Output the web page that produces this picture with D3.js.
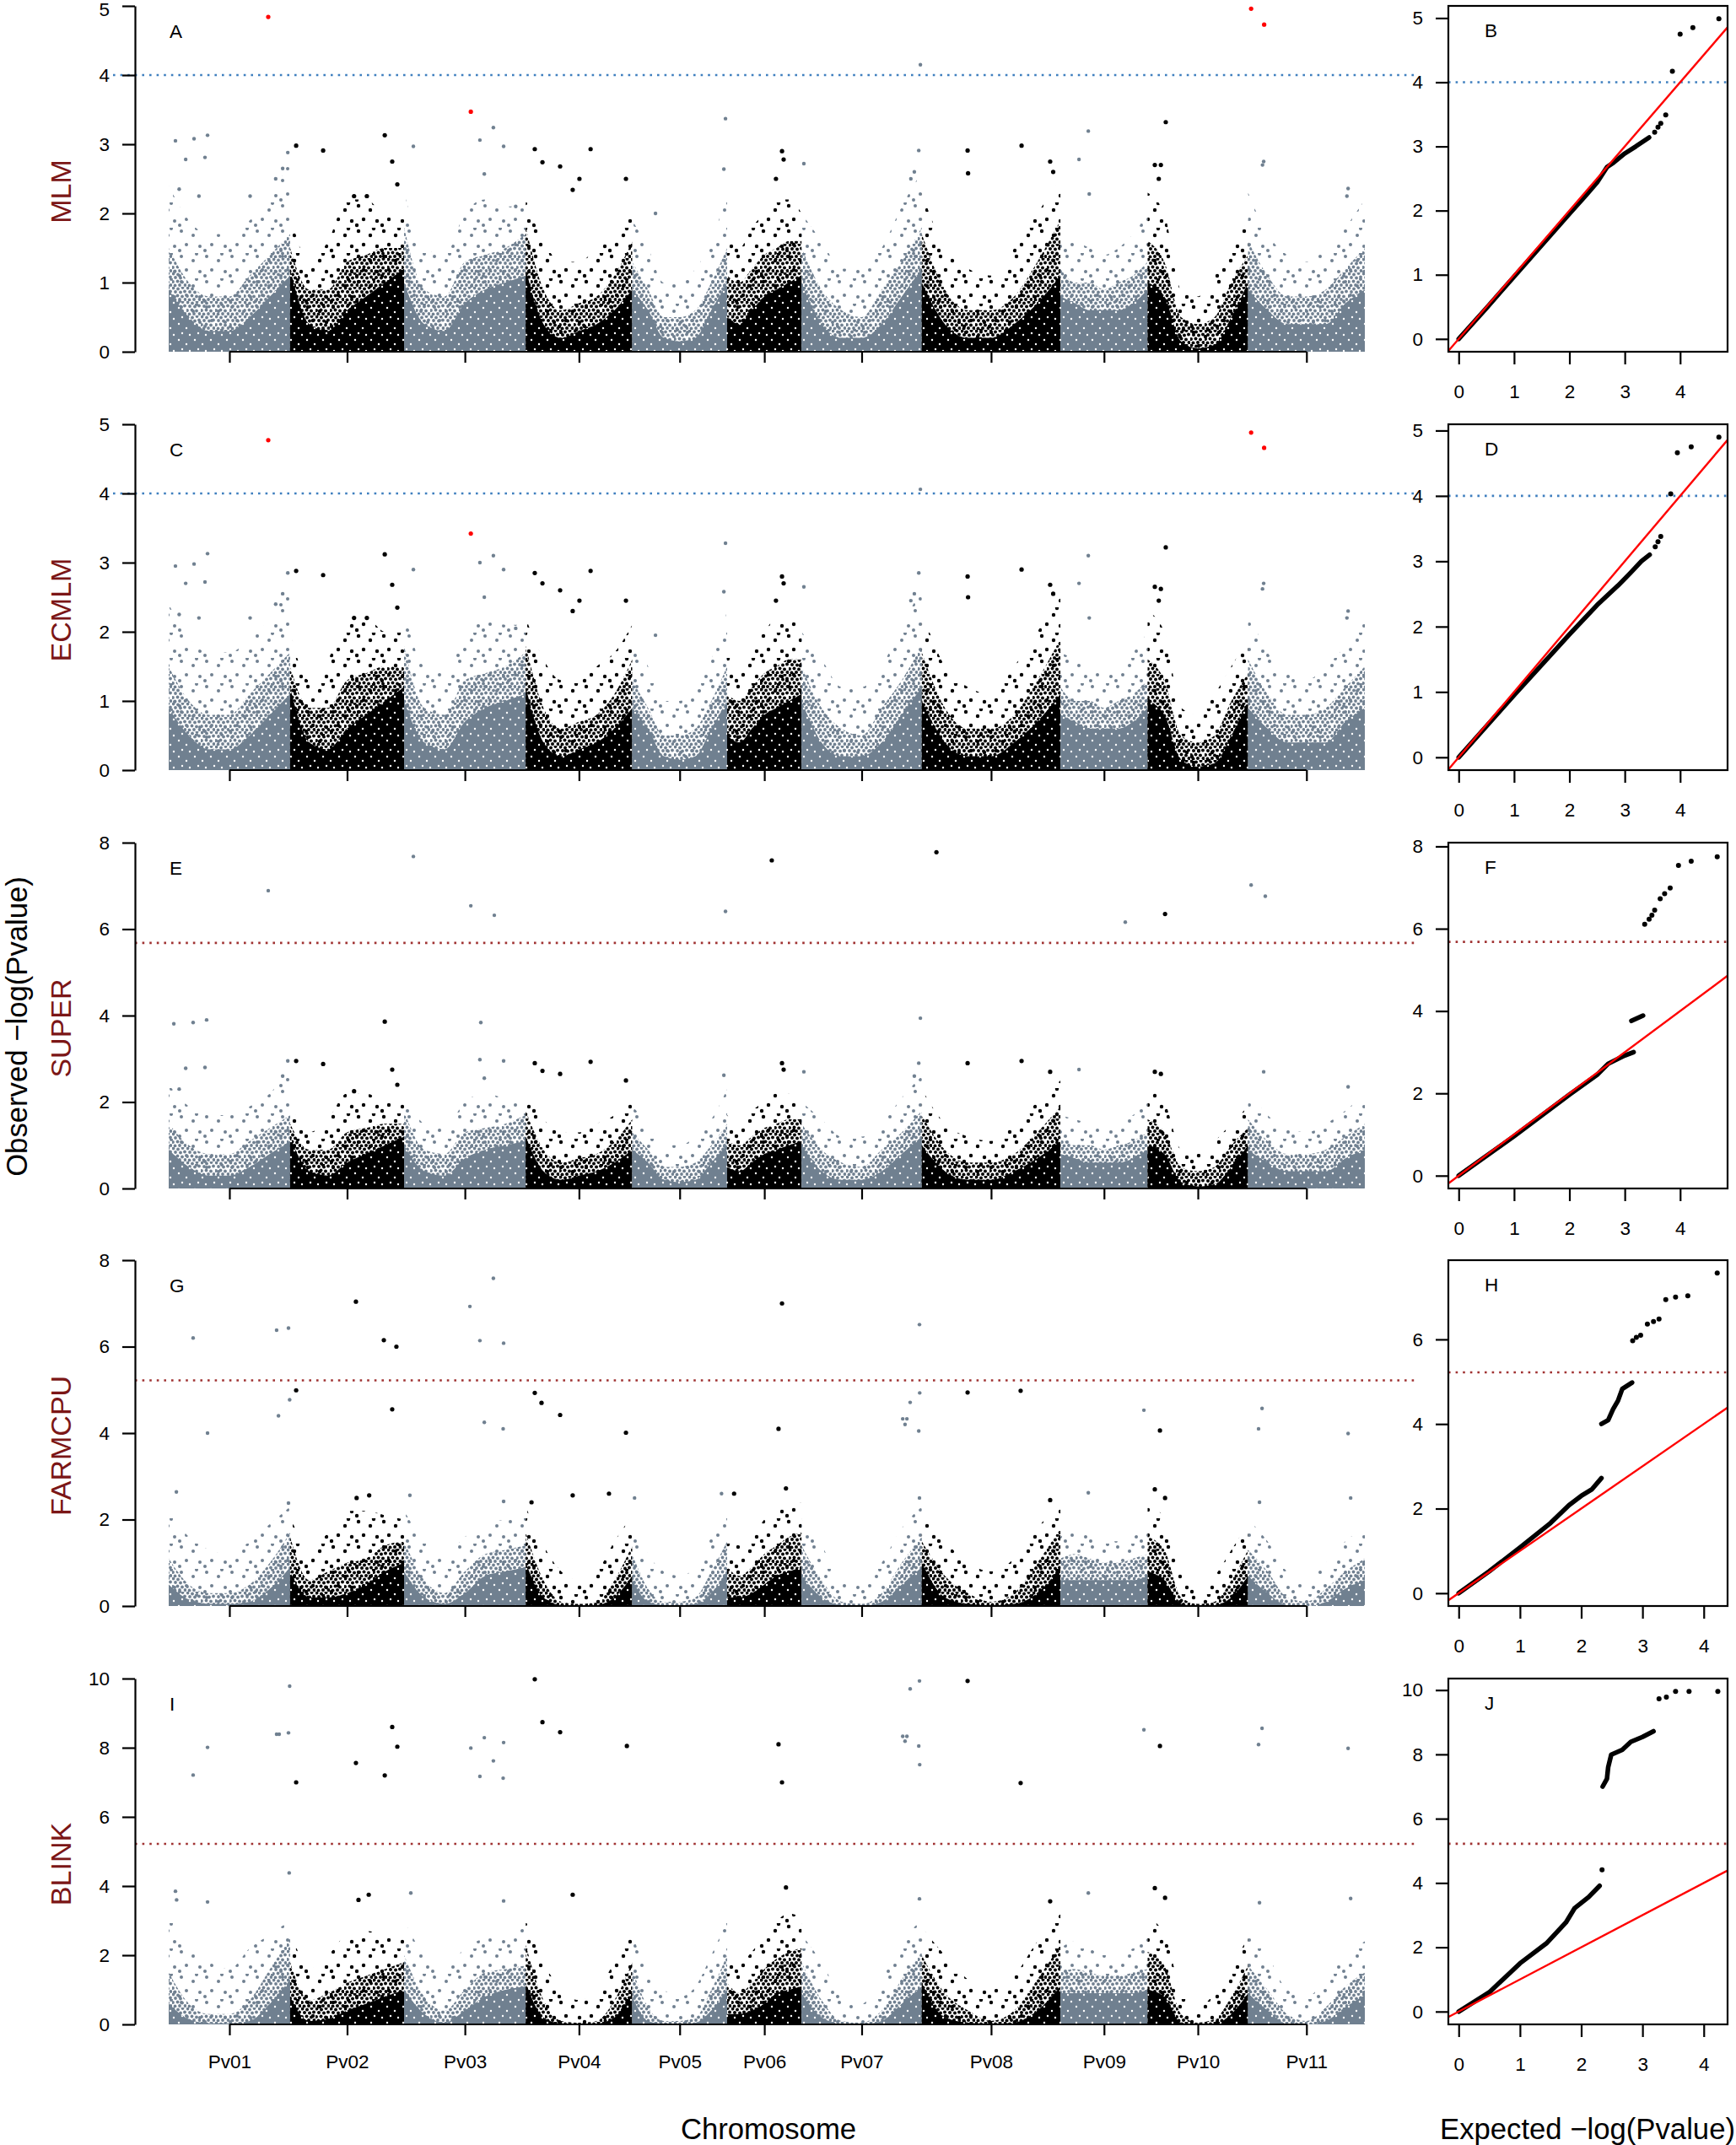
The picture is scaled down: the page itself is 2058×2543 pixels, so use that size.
<!DOCTYPE html>
<html>
<head>
<meta charset="utf-8">
<style>
  body { margin: 0; background: #fff; }
  svg text { font-family: "Liberation Sans", Arial, Helvetica, sans-serif; }
  .axis path, .axis line { stroke: #000; stroke-width: 2.2; fill: none; }
  .axis text { font-size: 22.5px; fill: #000; }
</style>
</head>
<body>
<svg width="2058" height="2543"></svg>
<script src="https://cdn.jsdelivr.net/npm/d3@7/dist/d3.min.js"></script>
<script>

// chromosomes (Mb)
var chromNames = ["Pv01","Pv02","Pv03","Pv04","Pv05","Pv06","Pv07","Pv08","Pv09","Pv10","Pv11"];
var chromLengths = [52.2, 49.0, 52.3, 45.8, 40.8, 32.0, 51.7, 59.6, 37.5, 43.2, 50.2];

var models = ["MLM","ECMLM","SUPER","FARMCPU","BLINK"];
var manhattanLetters = ["A","C","E","G","I"];
var qqLetters = ["B","D","F","H","J"];
var manhattanYMax = [5, 5, 8, 8, 10];
var manhattanYStep = [1, 1, 2, 2, 2];
var thresholds = [4, 4, 5.68, 5.22, 5.22];
var qqXMax = [4.67, 4.67, 4.67, 4.22, 4.22];
var qqYMax = [4.99, 4.90, 7.78, 7.57, 9.96];
var qqYStep = [1, 1, 2, 2, 2];

// bulk of the SNP cloud: -log10(p) reached by the solid / dense / sparse part,
// read at 7 even spots along each chromosome
var mixedSolid = [
  [0.9,0.5,0.3,0.3,0.5,0.8,1.1],[1.2,0.4,0.3,0.6,0.8,1.0,1.2],[1.0,0.4,0.3,0.7,0.9,1.0,1.1],
  [1.2,0.4,0.2,0.3,0.4,0.6,0.9],[0.9,0.6,0.2,0.15,0.2,0.6,1.0],[0.5,0.4,0.6,0.8,0.9,1.0,1.1],
  [1.0,0.4,0.2,0.2,0.4,0.8,1.2],[1.0,0.4,0.2,0.2,0.4,0.7,1.1],[0.8,0.7,0.6,0.6,0.6,0.7,0.9],
  [1.0,0.8,0.15,0.05,0.1,0.5,1.0],[0.9,0.6,0.4,0.4,0.4,0.7,0.9]];
var mixedDense = [
  [1.5,1.0,0.8,0.8,1.1,1.4,1.7],[1.5,0.9,0.9,1.3,1.4,1.5,1.5],[1.8,0.9,0.8,1.3,1.4,1.5,1.7],
  [1.8,0.9,0.6,0.7,0.8,1.1,1.6],[1.3,0.9,0.5,0.5,0.6,1.0,1.5],[1.1,1.0,1.2,1.4,1.5,1.6,1.6],
  [1.5,0.9,0.6,0.5,0.9,1.3,1.8],[1.7,0.9,0.6,0.6,0.8,1.3,1.9],[1.2,1.0,1.0,0.9,1.0,1.1,1.3],
  [1.6,1.3,0.5,0.4,0.5,1.0,1.4],[1.6,1.1,0.8,0.8,0.9,1.2,1.5]];
var mixedSparse = [
  [2.4,1.9,1.7,1.7,1.9,2.2,2.8],[2.0,1.3,1.6,2.2,2.2,2.0,2.0],[2.3,1.5,1.4,2.0,2.2,2.1,2.1],
  [2.2,1.6,1.3,1.3,1.5,1.7,2.1],[1.9,1.5,1.0,1.0,1.2,1.6,2.3],[1.7,1.5,1.8,2.0,2.2,2.2,2.0],
  [2.0,1.6,1.2,1.2,1.5,2.1,2.6],[2.3,1.5,1.2,1.1,1.5,2.0,2.5],[1.7,1.6,1.5,1.4,1.5,1.7,2.0],
  [2.3,2.0,0.9,0.8,1.1,1.5,1.9],[2.3,1.7,1.4,1.3,1.5,1.8,2.2]];

var farmSolid = [
  [0.5,0.15,0.05,0.05,0.1,0.4,0.9],[0.8,0.2,0.2,0.3,0.5,0.8,1.0],[0.8,0.2,0.05,0.3,0.7,0.8,0.9],
  [1.0,0.2,0.02,0.0,0.02,0.2,0.7],[0.6,0.1,0.02,0.02,0.05,0.3,0.8],[0.2,0.2,0.3,0.5,0.7,0.8,0.9],
  [0.7,0.2,0.02,0.0,0.1,0.5,0.9],[1.0,0.2,0.05,0.02,0.05,0.3,0.9],[0.6,0.6,0.6,0.6,0.6,0.6,0.7],
  [0.8,0.6,0.05,0.0,0.02,0.2,0.7],[0.7,0.3,0.02,0.0,0.1,0.4,0.6]];
var farmDense = [
  [1.1,0.5,0.3,0.3,0.5,1.0,1.7],[1.6,0.6,0.8,1.0,1.1,1.4,1.5],[1.5,0.6,0.3,0.8,1.2,1.3,1.4],
  [1.7,0.6,0.1,0.05,0.1,0.6,1.4],[1.2,0.4,0.1,0.1,0.2,0.8,1.5],[0.9,0.7,0.9,1.2,1.4,1.6,1.7],
  [1.4,0.6,0.1,0.05,0.3,1.0,1.6],[1.5,0.7,0.3,0.1,0.3,1.0,1.8],[1.1,1.2,1.1,1.0,1.0,1.1,1.2],
  [1.6,1.3,0.2,0.05,0.1,0.6,1.3],[1.3,0.8,0.2,0.1,0.4,0.8,1.1]];
var farmSparse = [
  [2.2,1.6,1.3,1.2,1.5,1.9,2.3],[2.1,1.3,1.7,2.2,2.2,2.1,2.0],[2.2,1.5,1.2,1.6,1.9,2.0,2.1],
  [2.3,1.4,0.8,0.6,0.8,1.5,2.1],[2.0,1.2,0.8,0.7,0.9,1.6,2.3],[1.6,1.4,1.6,2.0,2.2,2.4,2.4],
  [2.0,1.4,0.6,0.5,1.0,1.8,2.3],[2.1,1.5,1.0,0.8,1.1,1.8,2.4],[1.6,1.8,1.6,1.5,1.5,1.6,1.9],
  [2.4,2.0,0.8,0.4,0.7,1.3,1.9],[2.0,1.5,0.8,0.6,1.0,1.5,1.8]];

var blinkSolid = [
  [0.6,0.15,0.03,0.03,0.1,0.6,1.3],[0.8,0.1,0.15,0.4,0.6,0.8,1.0],[1.0,0.3,0.05,0.4,0.8,1.0,1.1],
  [1.2,0.2,0.02,0.0,0.02,0.2,0.9],[0.8,0.1,0.02,0.02,0.05,0.4,1.0],[0.3,0.3,0.4,0.6,0.9,1.0,1.1],
  [0.9,0.2,0.02,0.0,0.1,0.6,1.1],[1.2,0.2,0.05,0.02,0.05,0.4,1.1],[0.9,0.9,0.9,0.9,0.9,0.9,1.0],
  [1.0,0.8,0.05,0.0,0.02,0.3,0.9],[0.9,0.4,0.02,0.0,0.1,0.5,0.85]];
var blinkDense = [
  [1.5,0.6,0.3,0.3,0.7,1.6,2.5],[1.8,0.7,0.9,1.2,1.4,1.6,1.8],[2.0,0.8,0.4,1.0,1.5,1.6,1.7],
  [2.3,0.7,0.1,0.05,0.1,0.7,1.8],[1.6,0.5,0.1,0.1,0.2,1.0,2.0],[1.2,0.9,1.2,1.6,1.9,2.1,2.2],
  [1.8,0.7,0.1,0.05,0.4,1.3,2.1],[2.0,0.9,0.4,0.1,0.4,1.3,2.3],[1.5,1.6,1.5,1.4,1.4,1.5,1.6],
  [2.1,1.7,0.3,0.05,0.15,0.8,1.7],[1.7,1.0,0.3,0.1,0.5,1.1,1.5]];
var blinkSparse = [
  [3.2,2.2,1.8,1.6,2.2,2.6,3.0],[2.8,1.6,2.0,2.6,2.7,2.6,2.5],[3.0,2.0,1.6,2.2,2.5,2.6,2.8],
  [3.0,1.8,1.0,0.7,1.0,1.8,2.7],[2.6,1.5,1.0,0.8,1.1,2.0,3.0],[2.1,1.8,2.1,2.6,3.0,3.2,3.1],
  [2.6,1.8,0.8,0.6,1.3,2.4,3.0],[2.8,2.0,1.3,1.0,1.4,2.4,3.2],[2.2,2.4,2.2,2.0,2.0,2.2,2.5],
  [3.1,2.6,1.0,0.5,0.9,1.7,2.5],[2.6,2.0,1.0,0.8,1.3,2.0,2.4]];

// single SNPs standing out of the cloud: [chromosome, position Mb, -log10(p)]
var mlmPoints = [
  [1,2.9,3.05],[1,10.9,3.08],[1,16.7,3.13],[1,7.3,2.78],[1,15.6,2.81],[1,4.5,2.35],[1,13.0,2.25],[1,35,2.25],[1,46,2.5],[1,49,2.65],[1,51.2,2.88],
  [2,2.6,2.98],[2,14.2,2.91],[2,40.7,3.13],[2,43.9,2.75],[2,46.1,2.42],[2,27.5,2.25],[2,33,2.25],
  [3,4.0,2.97],[3,32.6,3.06],[3,38.4,3.24],[3,42.8,2.97],[3,34.5,2.57],[3,48,2.1],
  [4,3.9,2.93],[4,7.2,2.74],[4,14.8,2.68],[4,20.2,2.34],[4,23.1,2.5],[4,27.9,2.93],[4,43.1,2.5],
  [5,40.1,3.37],[5,39.4,2.64],[5,10,2.0],
  [6,23.6,2.9],[6,24.3,2.78],[6,21,2.5],
  [7,1.0,2.72],[7,50.4,2.91],[7,48.5,2.6],[7,47,2.5],[7,51.1,4.15],
  [8,19.7,2.91],[8,19.9,2.58],[8,42.9,2.98],[8,55.2,2.75],[8,56.5,2.6],
  [9,12.0,3.19],[9,8.0,2.78],[9,12.4,2.28],
  [10,7.8,3.32],[10,3.1,2.7],[10,5.7,2.7],[10,4.8,2.5],
  [11,6.7,2.75],[11,6.2,2.7],[11,43.0,2.36],[11,42.5,2.25]];
var mlmHits = [[1,42.8,4.84],[3,28.7,3.47],[11,1.3,4.96],[11,6.9,4.73]];

var ecmlmPoints = [
  [1,2.9,2.95],[1,10.9,2.98],[1,16.7,3.13],[1,7.3,2.7],[1,15.6,2.72],[1,4.5,2.25],[1,13.0,2.2],[1,35,2.2],[1,46,2.4],[1,49,2.55],[1,51.2,2.85],
  [2,2.6,2.88],[2,14.2,2.82],[2,40.7,3.12],[2,43.9,2.68],[2,46.1,2.35],[2,27.5,2.2],[2,33,2.2],
  [3,4.0,2.9],[3,32.6,3.0],[3,38.4,3.1],[3,42.8,2.9],[3,34.5,2.5],[3,48,2.05],
  [4,3.9,2.85],[4,7.2,2.7],[4,14.8,2.6],[4,20.2,2.3],[4,23.1,2.45],[4,27.9,2.88],[4,43.1,2.45],
  [5,40.1,3.28],[5,39.4,2.58],[5,10,1.95],
  [6,23.6,2.8],[6,24.3,2.7],[6,21,2.45],
  [7,1.0,2.65],[7,50.4,2.85],[7,48.5,2.55],[7,47,2.45],[7,51.1,4.06],
  [8,19.7,2.8],[8,19.9,2.5],[8,42.9,2.9],[8,55.2,2.68],[8,56.5,2.55],
  [9,12.0,3.1],[9,8.0,2.7],[9,12.4,2.2],
  [10,7.8,3.22],[10,3.1,2.65],[10,5.7,2.62],[10,4.8,2.45],
  [11,6.7,2.7],[11,6.2,2.62],[11,43.0,2.3],[11,42.5,2.2]];
var ecmlmHits = [[1,42.8,4.77],[3,28.7,3.42],[11,1.3,4.88],[11,6.9,4.66]];

var superPoints = [
  [1,42.8,6.89],[3,4.0,7.68],[3,28.7,6.54],[3,38.8,6.32],[5,40.1,6.41],[6,19.2,7.59],[8,6.3,7.78],
  [9,27.9,6.16],[10,7.5,6.35],[11,1.3,7.02],[11,7.4,6.76],
  [1,2.2,3.81],[1,10.5,3.84],[1,16.3,3.9],[2,40.7,3.86],[3,33.0,3.84],[7,51.1,3.94],
  [1,7.3,2.78],[1,15.6,2.8],[1,51.2,2.95],[1,4.5,2.3],[1,49,2.6],[2,2.6,2.95],[2,14.2,2.88],[2,43.9,2.75],
  [2,46.1,2.4],[2,27.5,2.25],[3,32.6,2.98],[3,42.8,2.95],[3,34.5,2.55],[4,3.9,2.9],[4,7.2,2.72],
  [4,14.8,2.65],[4,27.9,2.93],[4,43.1,2.5],[5,39.4,2.62],[6,23.6,2.9],[6,24.3,2.75],[7,1.0,2.7],
  [7,50.4,2.9],[7,48.5,2.6],[8,19.7,2.9],[8,42.9,2.95],[8,55.2,2.7],[9,8.0,2.75],[10,3.1,2.7],
  [10,5.7,2.65],[11,6.7,2.7],[11,43.0,2.35]];

var farmPoints = [
  [1,10.5,6.2],[1,16.7,4.0],[1,46.4,6.38],[1,51.5,6.43],[1,52.0,4.77],[1,47.2,4.40],
  [2,2.6,4.99],[2,28.3,7.04],[2,40.3,6.15],[2,45.7,6.0],[2,43.9,4.55],
  [3,28.3,6.93],[3,38.4,7.58],[3,32.6,6.14],[3,42.8,6.08],[3,34.5,4.25],[3,42.6,4.1],
  [4,3.9,4.93],[4,6.8,4.70],[4,14.8,4.42],[4,43.1,4.01],
  [6,23.6,7.0],[6,22.1,4.1],
  [7,50.7,6.51],[7,50.8,4.93],[7,46.7,4.71],[7,43.5,4.33],[7,45.3,4.33],[7,44.5,4.2],[7,50.4,4.05],
  [8,19.7,4.94],[8,42.5,4.98],[9,35.9,4.53],[10,5.3,4.06],[11,6.0,4.57],[11,4.5,4.1],[11,43.0,3.99],
  [1,3.3,2.64],[1,51.5,2.38],[2,28.6,2.5],[2,34,2.56],[3,2.5,2.56],[3,42.8,2.42],[4,2.5,2.4],
  [4,20.2,2.56],[4,35.8,2.6],[5,1.0,2.5],[5,38.4,2.6],[6,3.0,2.6],[6,25.3,2.72],[7,50.7,2.5],
  [8,55.2,2.45],[9,12.0,2.62],[10,3.1,2.7],[10,7.5,2.5],[11,4.9,2.4],[11,44.1,2.5]];

var blinkPoints = [
  [1,10.5,7.21],[1,16.7,8.01],[1,46.4,8.39],[1,47.5,8.39],[1,51.5,8.43],[1,52.0,9.78],[1,51.8,4.38],
  [2,2.6,7.0],[2,28.3,7.56],[2,40.7,7.2],[2,43.9,8.6],[2,46.1,8.03],
  [3,28.7,7.99],[3,34.5,8.29],[3,38.4,7.62],[3,42.8,8.15],[3,32.6,7.17],[3,42.6,7.12],
  [4,3.9,9.98],[4,7.2,8.74],[4,14.8,8.45],[4,43.5,8.05],
  [6,22.1,8.1],[6,23.6,7.0],
  [7,50.7,9.93],[7,46.7,9.7],[7,43.5,8.33],[7,45.3,8.33],[7,44.5,8.19],[7,50.4,8.05],[7,50.8,7.51],
  [8,19.7,9.93],[8,42.5,6.98],[9,35.9,8.52],[10,5.3,8.05],[11,6.0,8.56],[11,4.5,8.09],[11,43.0,7.98],
  [1,2.9,3.85],[1,3.4,3.6],[1,16.7,3.54],[2,33.8,3.75],[2,29.4,3.6],[3,2.9,3.8],[3,42.8,3.57],
  [4,20.2,3.75],[6,25.3,3.96],[7,50.7,3.63],[8,55.2,3.56],[9,12.0,3.8],[10,3.1,3.94],[10,7.5,3.66],
  [11,4.9,3.52],[11,44.1,3.64]];

// QQ plots: [expected, observed]; dense runs as line segments, the rest as dots
var mlmQQLine = [[[0,0],[0.5,0.48],[1,0.97],[1.5,1.46],[2,1.95],[2.3,2.24],[2.5,2.44],[2.68,2.68],[2.8,2.75],[3.0,2.89],[3.2,3.0],[3.44,3.14]]];
var mlmQQDots = [[3.54,3.22],[3.6,3.3],[3.65,3.36],[3.74,3.49],[3.86,4.17],[4.0,4.75],[4.23,4.85],[4.7,4.99]];
var ecmlmQQLine = [[[0,0],[1,0.95],[2,1.88],[2.5,2.33],[2.88,2.63],[3.1,2.82],[3.3,3.0],[3.45,3.1]]];
var ecmlmQQDots = [[3.55,3.22],[3.6,3.3],[3.65,3.38],[3.83,4.03],[3.95,4.66],[4.2,4.75],[4.7,4.9]];
var superQQLine = [[[0,0],[1,0.96],[2,1.97],[2.5,2.45],[2.7,2.72],[3.0,2.92],[3.16,3.0]], [[3.12,3.76],[3.33,3.89]]];
var superQQDots = [[3.36,6.11],[3.44,6.23],[3.49,6.33],[3.54,6.45],[3.64,6.73],[3.72,6.85],[3.82,6.99],[3.97,7.54],[4.2,7.64],[4.67,7.75]];
var farmQQLine = [[[0,0],[0.5,0.52],[1,1.08],[1.5,1.66],[1.8,2.08],[2.0,2.3],[2.17,2.45],[2.33,2.72]],
                  [[2.33,4.0],[2.44,4.09],[2.52,4.35],[2.6,4.55],[2.67,4.83],[2.83,4.98]]];
var farmQQDots = [[2.84,5.97],[2.9,6.05],[2.97,6.1],[3.08,6.36],[3.18,6.42],[3.27,6.48],[3.38,6.94],[3.54,7.0],[3.74,7.03],[4.22,7.57]];
var blinkQQLine = [[[0,0],[0.5,0.6],[1.0,1.5],[1.43,2.12],[1.75,2.77],[1.89,3.21],[2.12,3.56],[2.3,3.91]],
                   [[2.35,7.0],[2.42,7.24],[2.44,7.6],[2.49,7.99],[2.67,8.14],[2.81,8.39],[3.0,8.54],[3.18,8.72]]];
var blinkQQDots = [[2.34,4.41],[3.27,9.73],[3.39,9.78],[3.54,9.96],[3.76,9.96],[4.23,9.96]];

var panels = [
  {solid: mixedSolid, dense: mixedDense, sparse: mixedSparse, points: mlmPoints, hits: mlmHits, qqLine: mlmQQLine, qqDots: mlmQQDots},
  {solid: mixedSolid, dense: mixedDense, sparse: mixedSparse, points: ecmlmPoints, hits: ecmlmHits, qqLine: ecmlmQQLine, qqDots: ecmlmQQDots},
  {solid: mixedSolid, dense: mixedDense, sparse: mixedSparse, points: superPoints, hits: [], qqLine: superQQLine, qqDots: superQQDots},
  {solid: farmSolid, dense: farmDense, sparse: farmSparse, points: farmPoints, hits: [], qqLine: farmQQLine, qqDots: farmQQDots},
  {solid: blinkSolid, dense: blinkDense, sparse: blinkSparse, points: blinkPoints, hits: [], qqLine: blinkQQLine, qqDots: blinkQQDots}
];

var chromColors = ["#708090", "#000000"];
var thresholdColors = ["#3f7fbf", "#3f7fbf", "#a03232", "#a03232", "#a03232"];

var svg = d3.select("svg");
var rowBase = [417, 913, 1409, 1904, 2400],
    plotH = 410,
    manLeft = 200, manRight = 1618, yAxisX = 160,
    qqLeft = 1717, qqRight = 2048;

var offsets = [0].concat(Array.from(d3.cumsum(chromLengths)));
var totalLen = offsets[chromLengths.length];
var centers = chromLengths.map(function(l, i) { return offsets[i] + l / 2; });

var x = d3.scaleLinear().domain([0, totalLen]).range([manLeft, manRight]);

// dot textures for the speckled part of the clouds
var defs = svg.append("defs");
var denseDots = [[1.5,1.5],[7,2.5],[12.5,1],[4,6],[10,6.5],[15,5.5],[1,11],[6.5,10.5],[12,11.5],[3.5,15.5],[9,15],[15.5,15]];
var sparseDots = [[5,4],[19,9],[27,22],[11,20],[23,1],[3,27]];
var holeDots = [[3,4],[12,9],[7,15],[16,17]];
function addPattern(id, size, dots, r, fill) {
  var p = defs.append("pattern").attr("id", id)
      .attr("patternUnits", "userSpaceOnUse").attr("width", size).attr("height", size);
  p.selectAll("circle").data(dots).enter().append("circle")
      .attr("cx", function(d) { return d[0]; }).attr("cy", function(d) { return d[1]; })
      .attr("r", r).attr("fill", fill);
}
chromColors.forEach(function(c, k) {
  addPattern("dense" + k, 17, denseDots, k ? 2.0 : 1.9, c);
  addPattern("sparse" + k, 30, sparseDots, k ? 2.2 : 2.0, c);
});
addPattern("holes", 19, holeDots, 1.2, "#fff");

function cloudRows(levels, chr) {
  var vals = levels[chr], n = vals.length;
  return vals.map(function(v, i) {
    return {mb: offsets[chr] + chromLengths[chr] * i / (n - 1), v: v};
  });
}

panels.forEach(function(pan, r) {
  var base = rowBase[r], top = base - plotH;
  var y = d3.scaleLinear().domain([0, manhattanYMax[r]]).range([base, top]);
  var g = svg.append("g");

  // threshold
  g.append("line")
      .attr("x1", r < 2 ? 134 : yAxisX).attr("x2", 1677)
      .attr("y1", y(thresholds[r])).attr("y2", y(thresholds[r]))
      .attr("stroke", thresholdColors[r]).attr("stroke-width", 2.6)
      .attr("stroke-dasharray", "2.6 6");

  var area = d3.area()
      .x(function(d) { return x(d.mb); })
      .y0(y(0))
      .y1(function(d) { return y(d.v); })
      .curve(d3.curveMonotoneX);

  chromLengths.forEach(function(len, c) {
    var k = c % 2;
    g.append("path").attr("d", area(cloudRows(pan.sparse, c))).attr("fill", "url(#sparse" + k + ")");
    g.append("path").attr("d", area(cloudRows(pan.dense, c))).attr("fill", "url(#dense" + k + ")");
    var solidPath = area(cloudRows(pan.solid, c));
    g.append("path").attr("d", solidPath).attr("fill", chromColors[k]);
    g.append("path").attr("d", solidPath).attr("fill", "url(#holes)");
  });

  g.selectAll(".snp").data(pan.points).enter().append("circle")
      .attr("cx", function(d) { return x(offsets[d[0] - 1] + d[1]); })
      .attr("cy", function(d) { return y(d[2]); })
      .attr("r", function(d) { return (d[0] - 1) % 2 ? 2.6 : 2.2; })
      .attr("fill", function(d) { return chromColors[(d[0] - 1) % 2]; });

  g.selectAll(".hit").data(pan.hits).enter().append("circle")
      .attr("cx", function(d) { return x(offsets[d[0] - 1] + d[1]); })
      .attr("cy", function(d) { return y(d[2]); })
      .attr("r", 2.6).attr("fill", "#ff0000");

  // axes
  var ya0 = g.append("g").attr("class", "axis")
      .attr("transform", "translate(" + yAxisX + ",0)")
      .call(d3.axisLeft(y)
        .tickValues(d3.range(0, manhattanYMax[r] + 0.01, manhattanYStep[r]))
        .tickSize(15).tickSizeOuter(0).tickPadding(15).tickFormat(d3.format("d")));
  if (r === 0) {
    // the top label sits at the page edge
    ya0.selectAll(".tick text").filter(function(d) { return d === manhattanYMax[r]; }).attr("dy", "0.5em");
  }

  var xa = g.append("g").attr("class", "axis")
      .attr("transform", "translate(0," + base + ")")
      .call(d3.axisBottom(x).tickValues(centers).tickSize(13).tickPadding(23)
        .tickFormat(function(d, i) { return r === 4 ? chromNames[i] : ""; }));
  xa.select(".domain").remove();
  xa.append("line").attr("x1", x(centers[0])).attr("x2", x(centers[centers.length - 1]));

  g.append("text").attr("x", 201).attr("y", top + 38)
      .attr("font-size", 22.5).text(manhattanLetters[r]);

  g.append("text")
      .attr("transform", "translate(84," + (top + plotH / 2 + 15) + ") rotate(-90)")
      .attr("text-anchor", "middle").attr("font-size", 34).attr("fill", "#7b1616")
      .text(models[r]);

  // QQ plot
  var xm = qqXMax[r], ym = qqYMax[r];
  var qx = d3.scaleLinear().domain([-0.04 * xm, 1.04 * xm]).range([qqLeft, qqRight]);
  var qy = d3.scaleLinear().domain([-0.04 * ym, 1.04 * ym]).range([base, top]);
  var q = svg.append("g");
  var clipId = "qqclip" + r;
  q.append("clipPath").attr("id", clipId).append("rect")
      .attr("x", qqLeft).attr("y", top).attr("width", qqRight - qqLeft).attr("height", plotH);

  var inner = q.append("g").attr("clip-path", "url(#" + clipId + ")");
  inner.append("line")
      .attr("x1", qqLeft).attr("x2", qqRight)
      .attr("y1", qy(thresholds[r])).attr("y2", qy(thresholds[r]))
      .attr("stroke", thresholdColors[r]).attr("stroke-width", 2.6)
      .attr("stroke-dasharray", "2.6 6");

  var qline = d3.line().x(function(d) { return qx(d[0]); }).y(function(d) { return qy(d[1]); });
  pan.qqLine.forEach(function(seg) {
    inner.append("path").attr("d", qline(seg)).attr("fill", "none")
        .attr("stroke", "#000").attr("stroke-width", 5.5)
        .attr("stroke-linecap", "round").attr("stroke-linejoin", "round");
  });
  inner.selectAll(".qd").data(pan.qqDots).enter().append("circle")
      .attr("cx", function(d) { return qx(d[0]); })
      .attr("cy", function(d) { return qy(d[1]); })
      .attr("r", 3).attr("fill", "#000");

  var dom = qx.domain();
  inner.append("line")
      .attr("x1", qx(dom[0])).attr("y1", qy(dom[0]))
      .attr("x2", qx(dom[1])).attr("y2", qy(dom[1]))
      .attr("stroke", "#ff0000").attr("stroke-width", 2.4);

  q.append("rect").attr("x", qqLeft).attr("y", top)
      .attr("width", qqRight - qqLeft).attr("height", plotH)
      .attr("fill", "none").attr("stroke", "#000").attr("stroke-width", 2.2);

  var qyTicks = d3.range(0, qy.domain()[1], qqYStep[r]);
  var ya = q.append("g").attr("class", "axis")
      .attr("transform", "translate(" + qqLeft + ",0)")
      .call(d3.axisLeft(qy).tickValues(qyTicks).tickSize(15).tickPadding(15).tickFormat(d3.format("d")));
  ya.select(".domain").remove();

  var xb = q.append("g").attr("class", "axis")
      .attr("transform", "translate(0," + base + ")")
      .call(d3.axisBottom(qx).tickValues(d3.range(0, qx.domain()[1], 1))
        .tickSize(15).tickPadding(24).tickFormat(d3.format("d")));
  xb.select(".domain").remove();

  q.append("text").attr("x", 1760).attr("y", top + 37)
      .attr("font-size", 22.5).text(qqLetters[r]);
});

svg.append("text")
    .attr("transform", "translate(32,1217) rotate(-90)")
    .attr("text-anchor", "middle").attr("font-size", 34.7)
    .text("Observed \u2212log(Pvalue)");

svg.append("text").attr("x", 911).attr("y", 2536)
    .attr("text-anchor", "middle").attr("font-size", 34.7)
    .text("Chromosome");

svg.append("text").attr("x", 1882).attr("y", 2536)
    .attr("text-anchor", "middle").attr("font-size", 34.7)
    .text("Expected \u2212log(Pvalue)");

</script>
</body>
</html>
